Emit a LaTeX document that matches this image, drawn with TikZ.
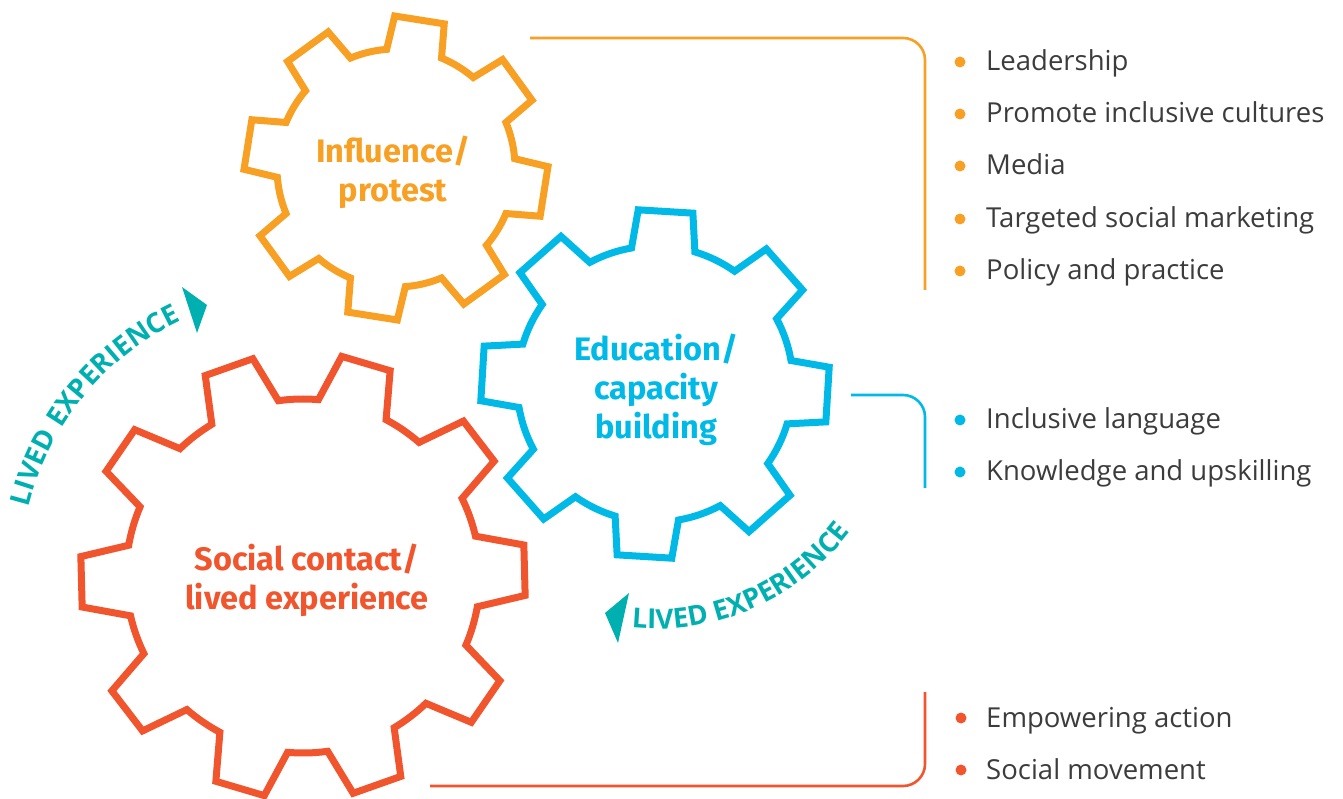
\documentclass[tikz,border=0pt]{standalone}
\usepackage{fontspec}
\usetikzlibrary{decorations.text}
\newfontfamily\gearfont{Fira Sans}
\newfontfamily\listfont{Open Sans}
\definecolor{gorange}{HTML}{F7A023}
\definecolor{gblue}{HTML}{00B9E6}
\definecolor{gred}{HTML}{F0552D}
\definecolor{gteal}{HTML}{00AFAF}
\definecolor{gtext}{HTML}{3C3C3C}
% #1 colour, #2 cx, #3 cy, #4 teeth, #5 first tooth angle, #6 outer r, #7 root r, #8 top half-width, #9 base half-width
\newcommand{\mygear}[9]{%
  \begin{scope}[shift={(#2,#3)}]
  \draw[gearline, #1] ({#5-#9}:#7)
  \foreach \k in {1,...,#4}{
    -- ({#5+(\k-1)*360/#4-#8}:#6)
    -- ({#5+(\k-1)*360/#4+#8}:#6)
    -- ({#5+(\k-1)*360/#4+#9}:#7)
    arc[start angle={#5+(\k-1)*360/#4+#9}, end angle={#5+\k*360/#4-#9}, radius=#7]
  } -- cycle;
  \end{scope}}
\begin{document}
\begin{tikzpicture}[x=1pt,y=1pt,
  gearline/.style={line width=7pt, line join=miter},
  glabel/.style={font=\gearfont\bfseries\fontsize{32.5}{39}\selectfont, align=center, inner sep=0pt},
  bullet/.style={circle, minimum size=11pt, inner sep=0pt},
  item/.style={font=\listfont\fontsize{27.5}{33}\selectfont, text=gtext, anchor=base west, inner sep=0pt},
  bracket/.style={line width=2.6pt, rounded corners=22pt}]
\useasboundingbox (0,0) rectangle (1343,798);

% gears
\mygear{gorange}{396}{630}{8}{81}{152}{119}{9.5}{13.5}
\mygear{gblue}{655}{414}{8}{86.5}{175}{138}{9}{13.3}
\mygear{gred}{303}{222}{10}{1.5}{223}{177}{6.5}{11.5}

% gear labels
\node[glabel, text=gorange] (linf) at (393,626) {Influence/\\protest};
\node[glabel, text=gblue] (ledu) at (656,408) {Education/\\capacity\\building};
\node[glabel, text=gred] (lsoc) at (307,218) {Social contact/\\lived experience};

% lived experience arcs
\path[decorate, decoration={text along path, text align=left,
   text={|\listfont\bfseries\fontsize{27.5}{27.5}\selectfont\color{gteal}|LIVED EXPERIENCE}}]
   ([shift={(303,222)}]166:283) arc[start angle=166, end angle=95, radius=283];
\fill[gteal] (207,493) -- (182,511) -- (197,465) -- cycle;

\path[decorate, decoration={text along path, text align=left,
   text={|\listfont\bfseries\fontsize{27.5}{27.5}\selectfont\color{gteal}|LIVED EXPERIENCE}}]
   ([shift={(655,414)}]-95.5:245) arc[start angle=-95.5, end angle=-25, radius=245];
\fill[gteal] (605,185) -- (629,205) -- (618,155) -- cycle;

% brackets
\coordinate (oa) at (530,760); \coordinate (ob) at (925,508);
\coordinate (ba) at (851,403); \coordinate (bb) at (925,310);
\coordinate (ra) at (430,12);  \coordinate (rb) at (925,106);
\draw[bracket, gorange] (oa) -| (ob);
\draw[bracket, gblue] (ba) -| (bb);
\draw[bracket, gred] (ra) -| (rb);

% lists
\node[bullet, fill=gorange] (o1) at (960,736) {};
\node[bullet, fill=gorange] (o2) at (960,684) {};
\node[bullet, fill=gorange] (o3) at (960,632) {};
\node[bullet, fill=gorange] (o4) at (960,579) {};
\node[bullet, fill=gorange] (o5) at (960,527) {};
\node[item] (t1) at (986,727) {Leadership};
\node[item] (t2) at (986,675) {Promote inclusive cultures};
\node[item] (t3) at (986,623) {Media};
\node[item] (t4) at (986,570) {Targeted social marketing};
\node[item] (t5) at (986,518) {Policy and practice};

\node[bullet, fill=gblue] (b1) at (960,378) {};
\node[bullet, fill=gblue] (b2) at (960,326) {};
\node[item] (t6) at (986,369) {Inclusive language};
\node[item] (t7) at (986,317) {Knowledge and upskilling};

\node[bullet, fill=gred] (r1) at (961,80) {};
\node[bullet, fill=gred] (r2) at (961,28) {};
\node[item] (t8) at (986,71) {Empowering action};
\node[item] (t9) at (986,19) {Social movement};
\end{tikzpicture}
\end{document}
